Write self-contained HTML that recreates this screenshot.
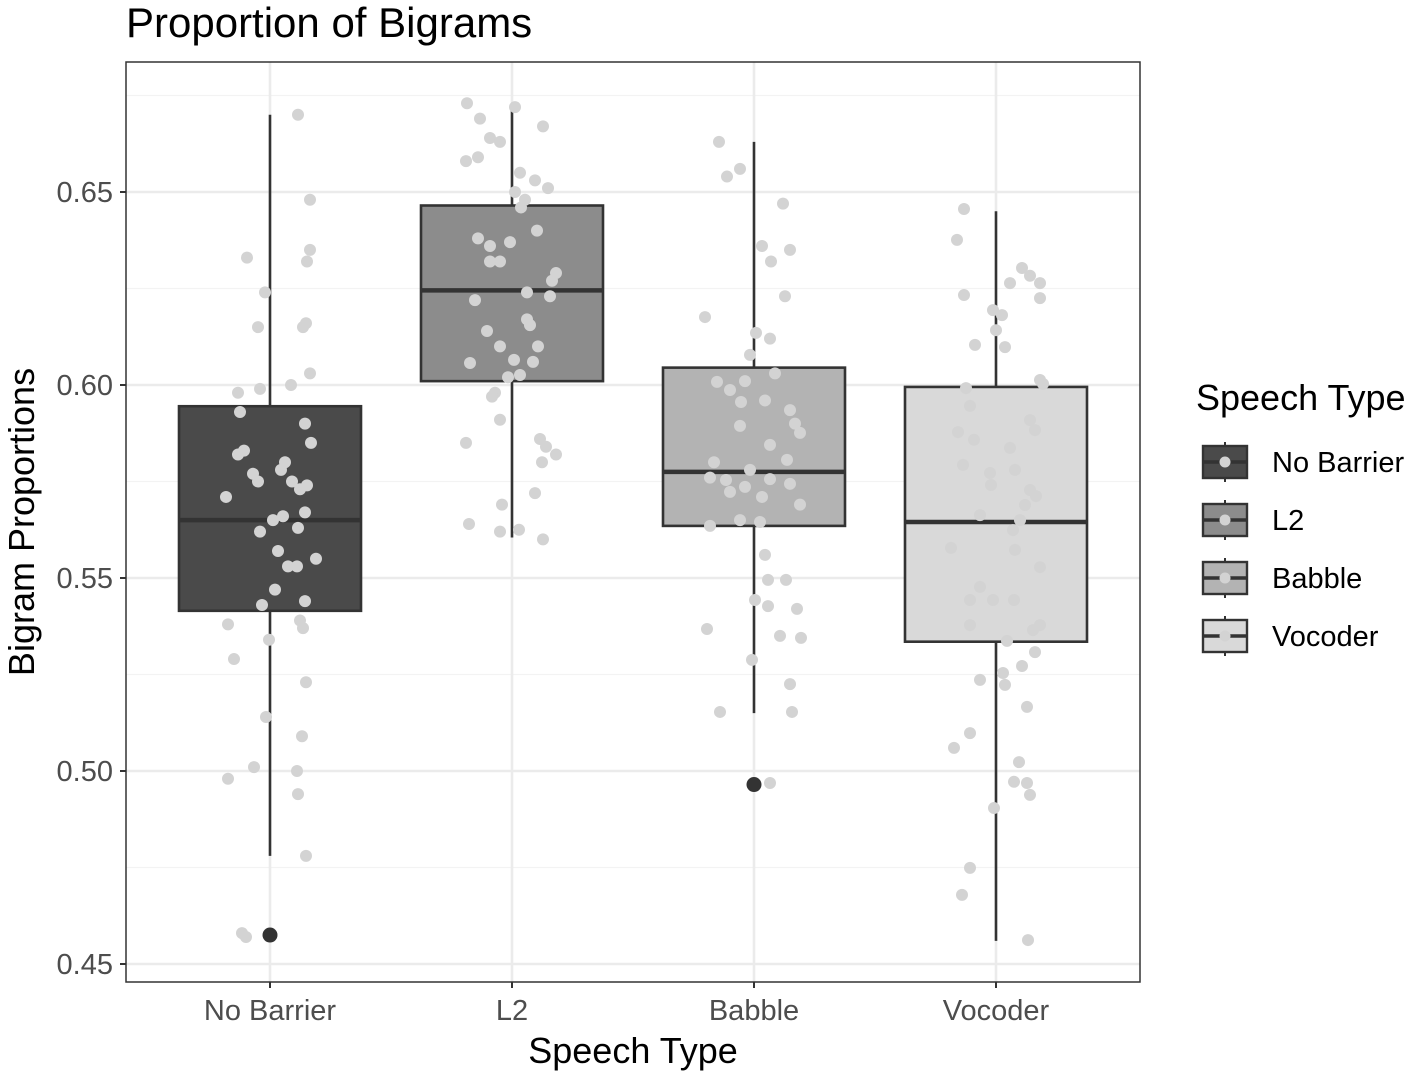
<!DOCTYPE html>
<html><head><meta charset="utf-8"><style>
body{margin:0;background:#fff}
svg text{font-family:"Liberation Sans",Arial,sans-serif}
</style></head><body>
<svg id="chart" width="1417" height="1081" xmlns="http://www.w3.org/2000/svg"></svg>
<script>
const categories=["No Barrier","L2","Babble","Vocoder"];
const boxFill=["#4a4a4a","#8c8c8c","#b3b3b3","#d9d9d9"];
const q1=[0.5415,0.601,0.5635,0.5335];
const median=[0.565,0.6245,0.5775,0.5645];
const q3=[0.5945,0.6465,0.6045,0.5995];
const whiskLo=[0.478,0.5605,0.515,0.456];
const whiskHi=[0.670,0.672,0.663,0.645];
const outliers=[[0.4575],[],[0.4965],[]];
const yTicks=[0.45,0.50,0.55,0.60,0.65];
const yTickLabels=["0.45","0.50","0.55","0.60","0.65"];
const yMinor=[0.475,0.525,0.575,0.625,0.675];
const ptsNB=[0.670,0.648,0.633,0.635,0.632,0.624,0.615,0.615,0.616,0.603,0.600,0.598,0.599,0.593,0.590,0.583,0.585,0.582,0.577,0.580,0.578,0.575,0.575,0.574,0.571,0.573,0.567,0.566,0.565,0.562,0.563,0.557,0.555,0.553,0.553,0.547,0.544,0.543,0.538,0.539,0.537,0.534,0.529,0.523,0.514,0.509,0.501,0.498,0.500,0.494,0.478,0.458,0.457];
const jitNB=[28,40,-23,40,37,-5,-12,33,36,40,21,-32,-10,-30,35,-26,41,-32,-17,15,11,-12,22,37,-44,30,35,13,3,-10,28,8,46,18,27,5,35,-8,-42,30,33,-1,-36,36,-4,32,-16,-42,27,28,36,-28,-24];
const ptsL2=[0.673,0.669,0.672,0.667,0.664,0.663,0.658,0.659,0.655,0.653,0.650,0.651,0.648,0.646,0.640,0.638,0.636,0.637,0.632,0.632,0.629,0.627,0.624,0.623,0.622,0.6155,0.617,0.614,0.610,0.610,0.6057,0.6065,0.6026,0.602,0.606,0.598,0.597,0.591,0.586,0.584,0.585,0.582,0.580,0.572,0.569,0.564,0.562,0.5625,0.560];
const jitL2=[-45,-32,3,31,-22,-12,-46,-34,8,23,3,36,13,9,25,-34,-22,-2,-12,-22,44,40,15,38,-37,18,15,-25,-12,26,-42,2,8,-4,21,-17,-20,-12,28,34,-46,44,30,23,-10,-43,-12,7,31];
const ptsBB=[0.663,0.656,0.654,0.647,0.636,0.635,0.632,0.623,0.6176,0.6135,0.612,0.6078,0.603,0.601,0.6008,0.5987,0.596,0.5956,0.5935,0.590,0.5894,0.5876,0.5845,0.580,0.5806,0.578,0.576,0.5754,0.5756,0.5723,0.5736,0.5744,0.571,0.569,0.565,0.5635,0.5645,0.556,0.5495,0.5495,0.5443,0.5427,0.542,0.535,0.5345,0.5368,0.5288,0.5225,0.5153,0.5153,0.4969];
const jitBB=[-35,-14,-27,29,8,36,17,31,-49,2,16,-4,21,-9,-37,-24,11,-13,36,41,-14,46,16,-40,33,-4,-44,-28,16,-24,-9,36,8,46,-14,-44,6,11,14,32,1,14,43,26,47,-47,-2,36,-34,38,16];
const ptsVC=[0.6456,0.6376,0.6303,0.6283,0.6264,0.6264,0.6233,0.6225,0.6194,0.6181,0.6142,0.6104,0.6098,0.6013,0.6003,0.5992,0.5946,0.5909,0.5883,0.5878,0.5858,0.5837,0.5793,0.578,0.5772,0.5728,0.5741,0.5712,0.5689,0.5663,0.565,0.5624,0.5573,0.5578,0.5528,0.5477,0.5443,0.5443,0.5443,0.5378,0.5378,0.5365,0.5337,0.5308,0.5272,0.5254,0.5236,0.5223,0.5166,0.5098,0.506,0.5023,0.4972,0.4969,0.4938,0.4904,0.4749,0.4679,0.4562];
const jitVC=[-32,-39,26,34,14,44,-32,44,-3,6,0,-21,9,44,47,-30,-26,34,39,-38,-22,14,-33,19,-6,34,-5,40,29,-16,24,17,19,-45,44,-16,-26,-3,18,-26,44,37,11,39,26,7,-16,9,31,-26,-42,23,18,31,34,-2,-26,-34,32];
const points=[ptsNB,ptsL2,ptsBB,ptsVC];
const jitters=[jitNB,jitL2,jitBB,jitVC];

const NS="http://www.w3.org/2000/svg";
const svg=document.getElementById('chart');
const P={l:126,r:1140,t:62,b:982};
function y(v){return 385-(v-0.60)*3860;}
function x(i){return 270+i*242;}
function mk(tag,attrs,parent){const e=document.createElementNS(NS,tag);for(const k in attrs)e.setAttribute(k,attrs[k]);(parent||svg).appendChild(e);return e;}

mk('rect',{x:P.l,y:P.t,width:P.r-P.l,height:P.b-P.t,fill:'#fff'});
yMinor.forEach(v=>{const l=mk('line',{x1:P.l,x2:P.r,y1:y(v),y2:y(v),stroke:'#f3f3f3','stroke-width':1.3});

});
yTicks.forEach((v,i)=>{const l=mk('line',{x1:P.l,x2:P.r,y1:y(v),y2:y(v),stroke:'#ebebeb','stroke-width':2.6});


mk('line',{x1:P.l-6,x2:P.l,y1:y(v),y2:y(v),stroke:'#333','stroke-width':2});
const t=mk('text',{x:P.l-13,y:y(v)+10,'text-anchor':'end','font-size':29,fill:'#4d4d4d'});t.textContent=yTickLabels[i];

});
categories.forEach((c,i)=>{const l=mk('line',{x1:x(i),x2:x(i),y1:P.t,y2:P.b,stroke:'#ebebeb','stroke-width':2.6});


mk('line',{x1:x(i),x2:x(i),y1:P.b,y2:P.b+6,stroke:'#333','stroke-width':2});
const t=mk('text',{x:x(i),y:P.b+38,'text-anchor':'middle','font-size':29,fill:'#4d4d4d'});t.textContent=c;

});

categories.forEach((c,i)=>{
const g=mk('g',{});


mk('line',{x1:x(i),x2:x(i),y1:y(whiskHi[i]),y2:y(whiskLo[i]),stroke:'#333','stroke-width':2.6},g);
mk('rect',{x:x(i)-91,y:y(q3[i]),width:182,height:y(q1[i])-y(q3[i]),fill:boxFill[i],stroke:'#333','stroke-width':2.6},g);
mk('line',{x1:x(i)-91,x2:x(i)+91,y1:y(median[i]),y2:y(median[i]),stroke:'#333','stroke-width':4.5},g);
outliers[i].forEach(v=>{const o=mk('circle',{cx:x(i),cy:y(v),r:7.5,fill:'#333'},g);

});
});
points.forEach((arr,i)=>{arr.forEach((v,k)=>{const p=mk('circle',{cx:x(i)+jitters[i][k],cy:y(v),r:6,fill:'#d3d3d3'});

});});
mk('rect',{x:P.l,y:P.t,width:P.r-P.l,height:P.b-P.t,fill:'none',stroke:'#333','stroke-width':1.5});

let t=mk('text',{x:126,y:37,'font-size':42,fill:'#000'});t.textContent='Proportion of Bigrams';


t=mk('text',{x:633,y:1063,'text-anchor':'middle','font-size':36,fill:'#000'});t.textContent='Speech Type';


t=mk('text',{x:0,y:0,'text-anchor':'middle','font-size':36,fill:'#000',transform:'translate(34,522) rotate(-90)'});t.textContent='Bigram Proportions';



t=mk('text',{x:1196,y:410,'font-size':36,fill:'#000'});t.textContent='Speech Type';


categories.forEach((c,i)=>{
const g=mk('g',{});


const ty=446+i*58;
mk('rect',{x:1196,y:ty-4,width:58,height:40,fill:'#fff'},g);
mk('line',{x1:1225,x2:1225,y1:ty-4,y2:ty+36,stroke:'#333','stroke-width':2},g);
mk('rect',{x:1203,y:ty,width:44,height:32,fill:boxFill[i],stroke:'#333','stroke-width':2.4},g);
mk('line',{x1:1203,x2:1247,y1:ty+16,y2:ty+16,stroke:'#333','stroke-width':3.5},g);
mk('circle',{cx:1225,cy:ty+16,r:5.5,fill:'#d3d3d3'},g);
const tt=mk('text',{x:1272,y:ty+26,'font-size':29,fill:'#000'},g);tt.textContent=c;
});
</script>
</body></html>
